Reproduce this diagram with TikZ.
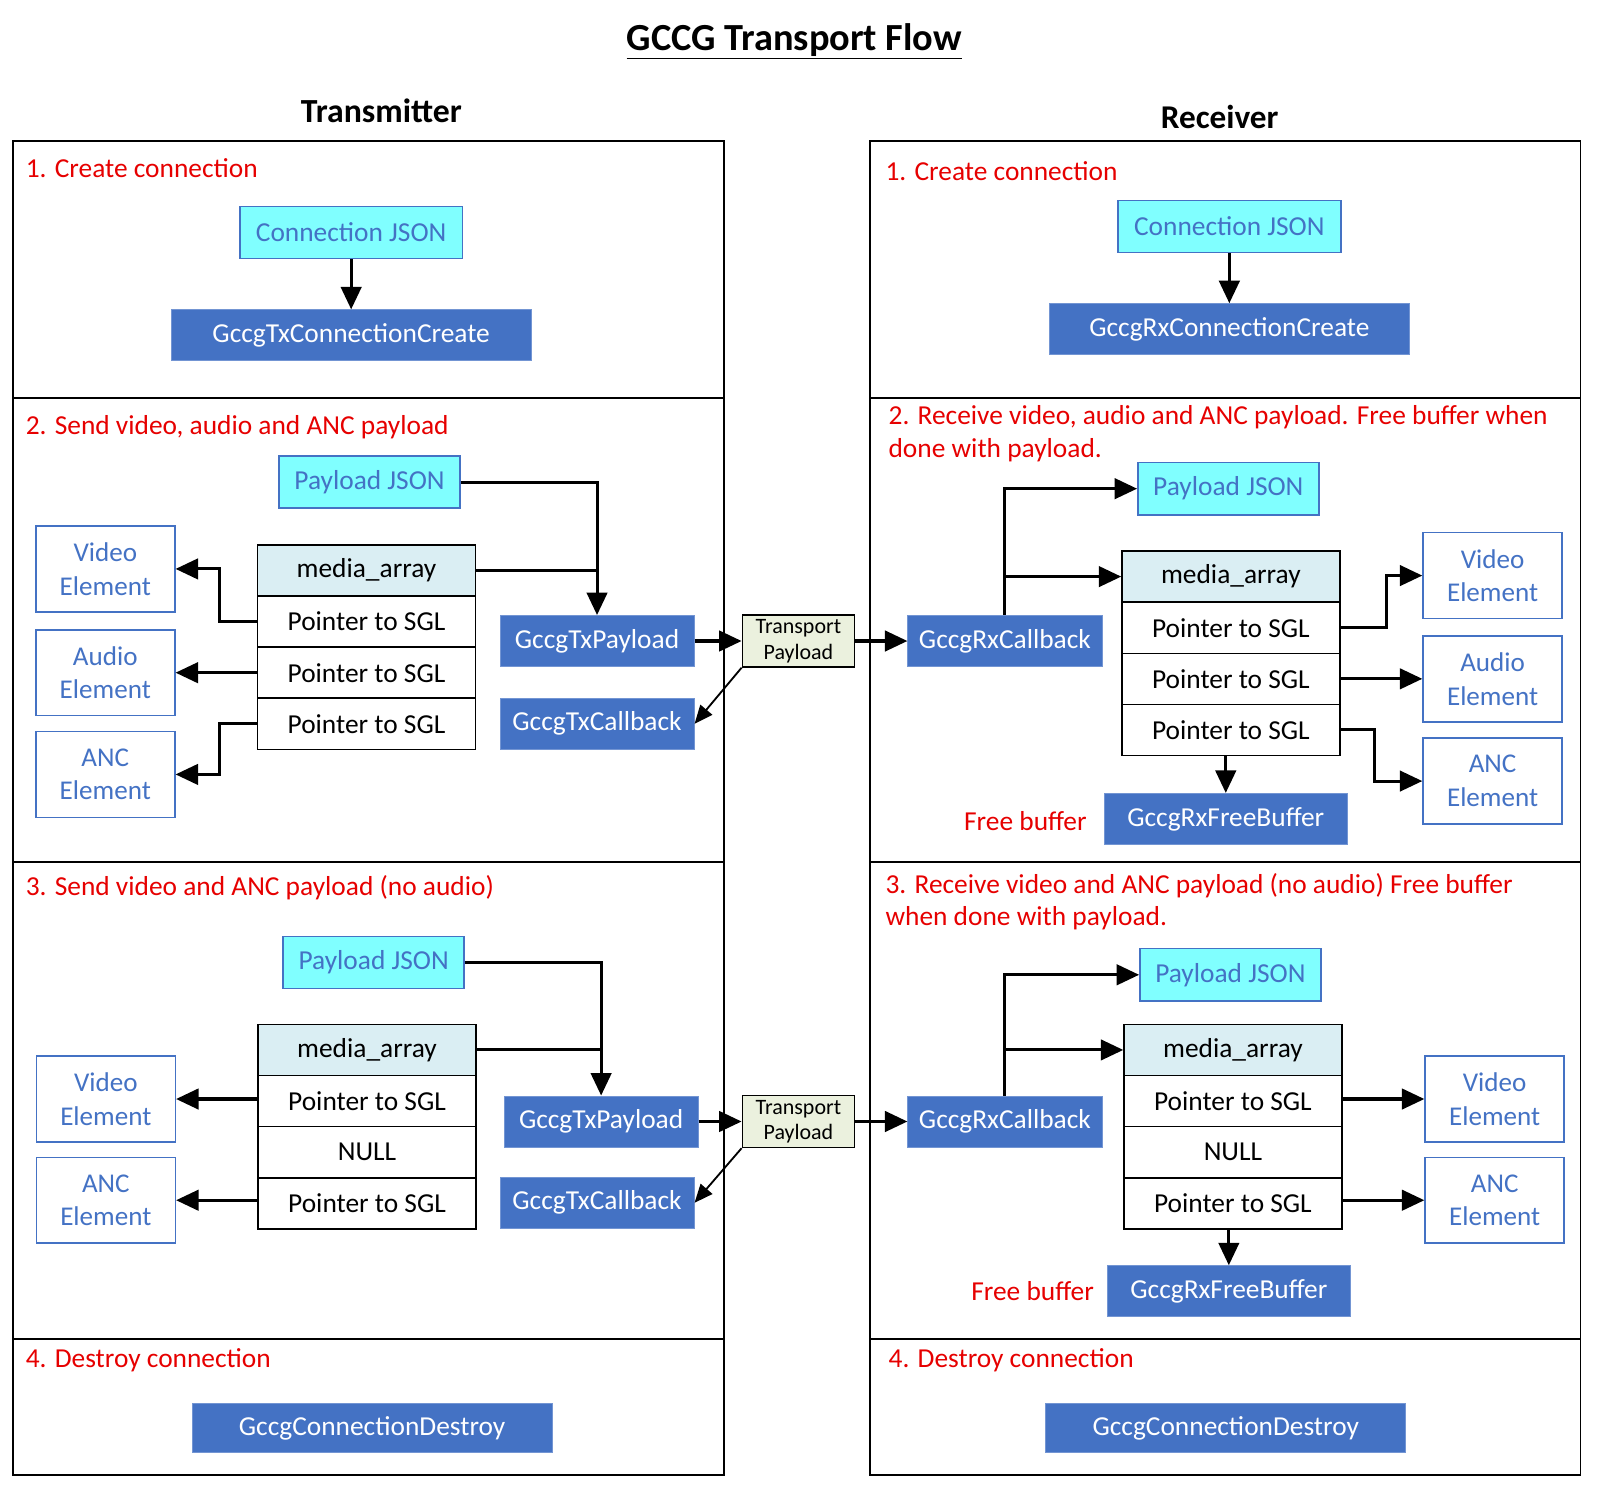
\documentclass[tikz,border=0pt]{standalone}
\usepackage{fontspec}
\setmainfont{Carlito}
\usetikzlibrary{arrows.meta}
\definecolor{boxblue}{HTML}{4472C4}
\definecolor{jsoncyan}{HTML}{80FFFF}
\definecolor{headblue}{HTML}{DAEEF3}
\definecolor{tpgreen}{HTML}{EBF1DE}
\definecolor{labelred}{HTML}{E60000}

\begin{document}
\begin{tikzpicture}[x=1pt,y=-1pt,font=\fontsize{26.8}{32}\selectfont]
\tikzstyle{json}=[rectangle,draw=boxblue,fill=jsoncyan,text=boxblue,line width=1.5pt,minimum width=177pt,minimum height=51pt,inner sep=0pt]
\tikzstyle{func}=[rectangle,fill=boxblue,draw=boxblue!75!white,line width=0.8pt,text=white,minimum width=190pt,minimum height=50pt,inner sep=0pt]
\tikzstyle{elem}=[rectangle,draw=boxblue,text=boxblue,line width=1.5pt,minimum width=136pt,minimum height=84pt,align=center,inner sep=0pt,font=\fontsize{26.5}{33}\selectfont]
\tikzstyle{cell}=[rectangle,draw=black,line width=1.5pt,minimum width=213pt,minimum height=50pt,inner sep=0pt]
\tikzstyle{head}=[cell,fill=headblue]
\tikzstyle{tpay}=[rectangle,draw=black,fill=tpgreen,line width=1.2pt,minimum width=110pt,minimum height=51pt,align=center,inner sep=0pt,font=\fontsize{21.5}{25}\selectfont]
\tikzstyle{sect}=[anchor=west,text=labelred,inner sep=0pt,align=left]
\tikzstyle{frame}=[draw=black,line width=1.6pt]
\tikzstyle{line}=[line width=3pt]
\tikzstyle{link}=[line width=3pt,-{Triangle[length=22pt,width=20pt]}]
\tikzstyle{thinlink}=[line width=1.8pt,-{Triangle[length=18pt,width=15pt]}]
\useasboundingbox (0,0) rectangle (1568,1460);

\node[font=\fontsize{37.5}{42}\selectfont\bfseries] (title) at (777,40) {\underline{GCCG Transport Flow}};
\node[font=\fontsize{33}{38}\selectfont\bfseries] (txhead) at (373,108) {Transmitter};
\node[font=\fontsize{32.5}{38}\selectfont\bfseries] (rxhead) at (1193,114) {Receiver};

\draw[frame] (13,138) rectangle (708,1443);
\draw[frame] (13,389) -- (708,389);
\draw[frame] (13,843) -- (708,843);
\draw[frame] (13,1310) -- (708,1310);
\draw[frame] (851,138) rectangle (1546,1443);
\draw[frame] (851,389) -- (1546,389);
\draw[frame] (851,843) -- (1546,843);
\draw[frame] (851,1310) -- (1546,1310);

\node[sect] (txs1) at (25,164) {1. Create connection};
\node[sect] (txs2) at (25,418) {2. Send video, audio and ANC payload};
\node[sect] (txs3) at (25,868) {3. Send video and ANC payload (no audio)};
\node[sect] (txs4) at (25,1331) {4. Destroy connection};
\node[sect] (rxs1) at (866,167) {1. Create connection};
\node[sect] (rxs2) at (869,424) {2. Receive video, audio and ANC payload. Free buffer when\\done with payload.};
\node[sect] (rxs3) at (866,882) {3. Receive video and ANC payload (no audio) Free buffer\\when done with payload.};
\node[sect] (rxs4) at (869,1331) {4. Destroy connection};

\node[json,minimum width=218pt] (txcj) at (343.5,227.5) {Connection JSON};
\node[func,minimum width=352pt] (txcc) at (343.5,328) {GccgTxConnectionCreate};
\draw[link] (txcj) -- (txcc);
\node[json,minimum width=218pt] (rxcj) at (1202.5,221.5) {Connection JSON};
\node[func,minimum width=352pt] (rxcc) at (1202.5,322) {GccgRxConnectionCreate};
\draw[link] (rxcj) -- (rxcc);

\node[json] (txpj2) at (361.5,471.5) {Payload JSON};
\node[head] (txma2) at (358.5,558) {media\_array};
\node[cell] (txp2a) at (358.5,608) {Pointer to SGL};
\node[cell] (txp2b) at (358.5,658) {Pointer to SGL};
\node[cell] (txp2c) at (358.5,708) {Pointer to SGL};
\node[elem] (txve2) at (103,556.5) {Video\\Element};
\node[elem] (txae2) at (103,658) {Audio\\Element};
\node[elem] (txne2) at (103,757.5) {ANC\\Element};
\node[func] (txtp2) at (584,627) {GccgTxPayload};
\node[func] (txcb2) at (584,708) {GccgTxCallback};
\node[tpay] (tp2) at (781,627) {Transport\\Payload};
\draw[link] (txpj2.east) -| (txtp2.north);
\draw[line] (txma2.east) -- (txma2.east -| txtp2.north);
\draw[link] (txp2a.west) -- ++(-37,0) |- (txve2.east);
\draw[link] (txp2b.west) -- (txae2.east);
\draw[link] (txp2c.west) -- ++(-37,0) |- (txne2.east);
\draw[link] (txtp2) -- (tp2);
\draw[thinlink] (tp2.south west) -- (txcb2.east);

\node[json] (rxpj2) at (1201.5,478) {Payload JSON};
\node[func] (rxcb2) at (983,627) {GccgRxCallback};
\node[head] (rxma2) at (1204,564) {media\_array};
\node[cell] (rxp2a) at (1204,614) {Pointer to SGL};
\node[cell] (rxp2b) at (1204,664) {Pointer to SGL};
\node[cell] (rxp2c) at (1204,714) {Pointer to SGL};
\node[elem] (rxve2) at (1460,563) {Video\\Element};
\node[elem] (rxae2) at (1460,664) {Audio\\Element};
\node[elem] (rxne2) at (1460,764) {ANC\\Element};
\node[func,minimum width=238pt] (rxfb2) at (1199,801) {GccgRxFreeBuffer};
\node[text=labelred] (rxfl2) at (1003,803) {Free buffer};
\draw[link] (tp2) -- (rxcb2);
\draw[link] (rxcb2.north) |- (rxpj2.west);
\draw[link] (rxcb2.north |- rxma2.west) -- (rxma2.west);
\draw[link] (rxp2a.east) -- ++(45,0) |- (rxve2.west);
\draw[link] (rxp2b.east) -- (rxae2.west);
\draw[link] (rxp2c.east) -- ++(33,0) |- (rxne2.west);
\draw[link] (rxp2c.south -| rxfb2.north) -- (rxfb2.north);

\node[json] (txpj3) at (365.5,941.5) {Payload JSON};
\node[head] (txma3) at (359,1027) {media\_array};
\node[cell] (txp3a) at (359,1077) {Pointer to SGL};
\node[cell] (txp3b) at (359,1127) {NULL};
\node[cell] (txp3c) at (359,1177) {Pointer to SGL};
\node[elem] (txve3) at (103.5,1075) {Video\\Element};
\node[elem] (txne3) at (103.5,1174) {ANC\\Element};
\node[func] (txtp3) at (588,1097) {GccgTxPayload};
\node[func] (txcb3) at (584,1176.5) {GccgTxCallback};
\node[tpay] (tp3) at (781,1097) {Transport\\Payload};
\draw[link] (txpj3.east) -| (txtp3.north);
\draw[line] (txma3.east) -- (txma3.east -| txtp3.north);
\draw[link] (txp3a.west |- txve3.east) -- (txve3.east);
\draw[link] (txp3c.west |- txne3.east) -- (txne3.east);
\draw[link] (txtp3) -- (tp3);
\draw[thinlink] (tp3.south west) -- (txcb3.east);

\node[json] (rxpj3) at (1203.5,953.5) {Payload JSON};
\node[func] (rxcb3) at (983,1097) {GccgRxCallback};
\node[head] (rxma3) at (1206,1027) {media\_array};
\node[cell] (rxp3a) at (1206,1077) {Pointer to SGL};
\node[cell] (rxp3b) at (1206,1127) {NULL};
\node[cell] (rxp3c) at (1206,1177) {Pointer to SGL};
\node[elem] (rxve3) at (1462,1075) {Video\\Element};
\node[elem] (rxne3) at (1462,1174) {ANC\\Element};
\node[func,minimum width=238pt] (rxfb3) at (1202,1263) {GccgRxFreeBuffer};
\node[text=labelred] (rxfl3) at (1010,1263) {Free buffer};
\draw[link] (tp3) -- (rxcb3);
\draw[link] (rxcb3.north) |- (rxpj3.west);
\draw[link] (rxcb3.north |- rxma3.west) -- (rxma3.west);
\draw[link] (rxp3a.east |- rxve3.west) -- (rxve3.west);
\draw[link] (rxp3c.east |- rxne3.west) -- (rxne3.west);
\draw[link] (rxp3c.south -| rxfb3.north) -- (rxfb3.north);

\node[func,minimum width=352pt,minimum height=48pt] (txcd) at (364,1397) {GccgConnectionDestroy};
\node[func,minimum width=352pt,minimum height=48pt] (rxcd) at (1199,1397) {GccgConnectionDestroy};
\end{tikzpicture}
\end{document}
